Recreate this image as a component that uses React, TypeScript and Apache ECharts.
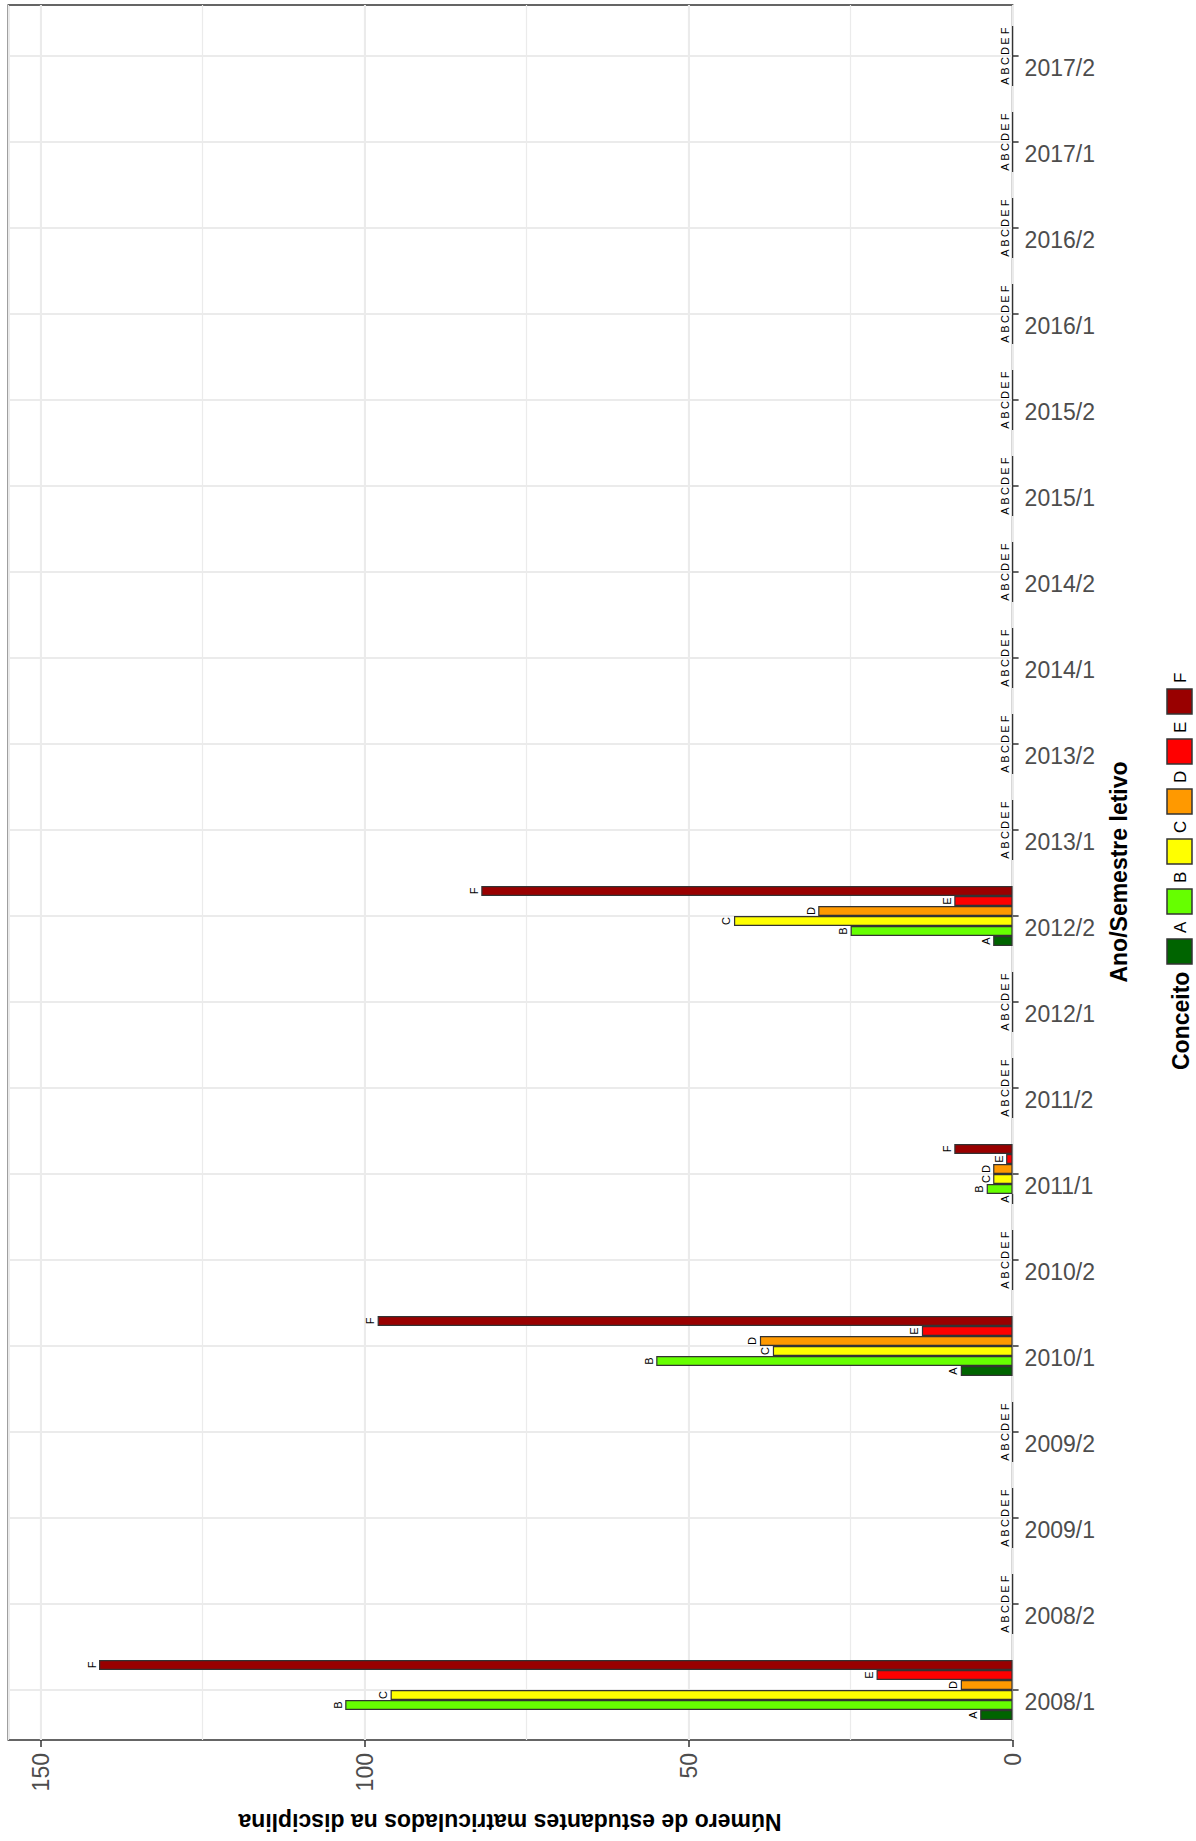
import React, { useEffect, useRef } from 'react';
import * as echarts from 'echarts';

const semesters = [
  '2008/1', '2008/2', '2009/1', '2009/2', '2010/1', '2010/2', '2011/1', '2011/2', '2012/1', '2012/2',
  '2013/1', '2013/2', '2014/1', '2014/2', '2015/1', '2015/2', '2016/1', '2016/2', '2017/1', '2017/2',
];
const grades = ['A', 'B', 'C', 'D', 'E', 'F'];
const gradeColors = ['#006400', '#66FF00', '#FFFF00', '#FF9900', '#FF0000', '#990000'];

const countsA = [5, 0, 0, 0, 8, 0, 0, 0, 0, 3, 0, 0, 0, 0, 0, 0, 0, 0, 0, 0];
const countsB = [103, 0, 0, 0, 55, 0, 4, 0, 0, 25, 0, 0, 0, 0, 0, 0, 0, 0, 0, 0];
const countsC = [96, 0, 0, 0, 37, 0, 3, 0, 0, 43, 0, 0, 0, 0, 0, 0, 0, 0, 0, 0];
const countsD = [8, 0, 0, 0, 39, 0, 3, 0, 0, 30, 0, 0, 0, 0, 0, 0, 0, 0, 0, 0];
const countsE = [21, 0, 0, 0, 14, 0, 1, 0, 0, 9, 0, 0, 0, 0, 0, 0, 0, 0, 0, 0];
const countsF = [141, 0, 0, 0, 98, 0, 9, 0, 0, 82, 0, 0, 0, 0, 0, 0, 0, 0, 0, 0];
const countsByGrade = [countsA, countsB, countsC, countsD, countsE, countsF];

const valueTicks = [0, 50, 100, 150];
const valueMax = 155;
const xTitle = 'Ano/Semestre letivo';
const yTitle = 'Número de estudantes matriculados na disciplina';
const legendTitle = 'Conceito';

const FONT = '"Liberation Sans", Arial, Helvetica, sans-serif';

export default function App() {
  const ref = useRef<HTMLDivElement>(null);

  useEffect(() => {
    if (!ref.current) return;
    const chart = echarts.init(ref.current, undefined, { renderer: 'svg' });

    const panel = { left: 8.3, right: 1196 - 1012.6, top: 5, bottom: 1841 - 1740 };
    const barGrid = { left: 8.3, right: 1196 - 1012.6, top: 13, bottom: 1841 - 1733 };

    const barSeries = grades
      .map((g, i) => ({
        name: g,
        type: 'bar',
        xAxisIndex: 2,
        yAxisIndex: 1,
        data: countsByGrade[i],
        barWidth: 10,
        barGap: '0%',
        z: 3,
        itemStyle: { color: gradeColors[i], borderColor: '#333333', borderWidth: 1.2 },
        label: {
          show: true,
          position: 'left',
          distance: 2,
          rotate: 90,
          align: 'center',
          verticalAlign: 'bottom',
          formatter: '{a}',
          fontSize: 11,
          fontFamily: FONT,
          color: '#000000',
        },
      }))
      .reverse();

    const legendItems: any[] = [];
    grades.forEach((g, i) => {
      const top = 939 - i * 50;
      legendItems.push({
        type: 'rect',
        shape: { x: 1167, y: top, width: 25, height: 25 },
        style: { fill: gradeColors[i], stroke: '#333333', lineWidth: 1.5 },
      });
      legendItems.push({
        type: 'text',
        x: 1180,
        y: top - 6,
        rotation: Math.PI / 2,
        style: {
          text: g,
          fontSize: 17,
          fontFamily: FONT,
          fill: '#000000',
          align: 'left',
          textAlign: 'left',
          verticalAlign: 'middle',
          textVerticalAlign: 'middle',
        },
      });
    });

    const option: any = {
      animation: false,
      backgroundColor: '#ffffff',
      grid: [
        { ...panel, show: true, borderColor: '#333333', borderWidth: 1.6, backgroundColor: 'transparent', containLabel: false },
        { ...barGrid, show: false, containLabel: false },
      ],
      xAxis: [
        {
          gridIndex: 0,
          type: 'value',
          min: 0,
          max: valueMax,
          interval: 50,
          inverse: true,
          position: 'bottom',
          axisLine: { show: false },
          axisTick: { show: true, customValues: valueTicks, length: 7, lineStyle: { color: '#333333', width: 1.5 } },
          axisLabel: {
            show: true,
            customValues: valueTicks,
            rotate: 90,
            margin: 13,
            fontSize: 23,
            fontFamily: FONT,
            color: '#4d4d4d',
          },
          splitLine: { show: true, lineStyle: { color: '#ebebeb', width: 2 } },
        },
        {
          gridIndex: 0,
          type: 'value',
          min: 0,
          max: valueMax,
          interval: 25,
          inverse: true,
          axisLine: { show: false },
          axisTick: { show: false },
          axisLabel: { show: false },
          splitLine: { show: true, lineStyle: { color: '#ebebeb', width: 1.2 } },
        },
        {
          gridIndex: 1,
          type: 'value',
          min: 0,
          max: valueMax,
          inverse: true,
          axisLine: { show: false },
          axisTick: { show: false },
          axisLabel: { show: false },
          splitLine: { show: false },
        },
      ],
      yAxis: [
        {
          gridIndex: 0,
          type: 'value',
          min: 0,
          max: 1,
          show: false,
          splitLine: { show: false },
        },
        {
          gridIndex: 1,
          type: 'category',
          data: semesters,
          position: 'right',
          axisLine: { show: false },
          axisTick: { show: true, alignWithLabel: true, interval: 0, length: 6, lineStyle: { color: '#333333', width: 1.5 } },
          axisLabel: {
            show: true,
            interval: 0,
            margin: 12,
            fontSize: 23,
            fontFamily: FONT,
            color: '#4d4d4d',
            verticalAlign: 'top',
          },
          splitLine: { show: false },
        },
      ],
      series: [
        {
          type: 'line',
          name: 'grid',
          xAxisIndex: 2,
          yAxisIndex: 1,
          data: [],
          z: 1,
          silent: true,
          markLine: {
            silent: true,
            z: 1,
            symbol: ['none', 'none'],
            label: { show: false },
            lineStyle: { color: '#ebebeb', width: 2, type: 'solid' },
            data: semesters.map((s) => ({ yAxis: s })),
          },
        },
        ...barSeries,
      ],
      graphic: [
        {
          type: 'text',
          x: 510,
          y: 1822,
          rotation: Math.PI,
          style: {
            text: yTitle,
            fontSize: 23,
            fontWeight: 'bold',
            fontFamily: FONT,
            fill: '#000000',
            align: 'center',
            textAlign: 'center',
            verticalAlign: 'middle',
            textVerticalAlign: 'middle',
          },
        },
        {
          type: 'text',
          x: 1119,
          y: 872,
          rotation: Math.PI / 2,
          style: {
            text: xTitle,
            fontSize: 23,
            fontWeight: 'bold',
            fontFamily: FONT,
            fill: '#000000',
            align: 'center',
            textAlign: 'center',
            verticalAlign: 'middle',
            textVerticalAlign: 'middle',
          },
        },
        {
          type: 'text',
          x: 1181,
          y: 1070,
          rotation: Math.PI / 2,
          style: {
            text: legendTitle,
            fontSize: 23,
            fontWeight: 'bold',
            fontFamily: FONT,
            fill: '#000000',
            align: 'left',
            textAlign: 'left',
            verticalAlign: 'middle',
            textVerticalAlign: 'middle',
          },
        },
        ...legendItems,
      ],
    };

    chart.setOption(option);
    return () => chart.dispose();
  }, []);

  return (
    <div
      ref={ref}
      style={{ position: 'absolute', left: 0, top: 0, width: 1196, height: 1841, background: '#ffffff' }}
    />
  );
}
